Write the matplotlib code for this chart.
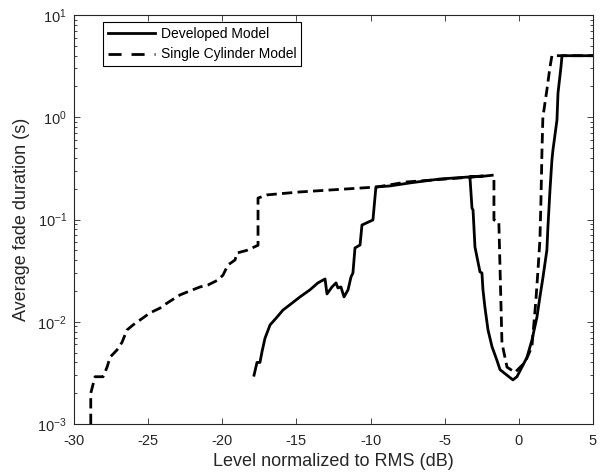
import matplotlib
matplotlib.use("Agg")
import matplotlib.pyplot as plt
from matplotlib.lines import Line2D
from matplotlib.ticker import LogLocator, FixedLocator, NullFormatter

plt.rcParams['font.family'] = ['Liberation Sans', 'DejaVu Sans']
plt.rcParams['mathtext.fontset'] = 'custom'
plt.rcParams['mathtext.rm'] = 'Liberation Sans'
plt.rcParams['mathtext.it'] = 'Liberation Sans:italic'
plt.rcParams['axes.unicode_minus'] = False

# Developed Model (solid)
dev_x = [-17.86, -17.66, -17.46, -17.32, -17.12, -16.78, -16.31, -15.91, -15.30, -14.76,
         -14.09, -13.55, -13.07, -12.94, -12.60, -12.33, -12.20, -12.00, -11.79, -11.52,
         -11.32, -11.19, -11.05, -10.71, -10.58, -9.84, -9.64, -8.69, -7.34, -5.32,
         -3.30, -2.42, -3.30, -3.16, -3.09, -2.96, -2.62, -2.49, -2.42, -2.29,
         -2.08, -1.81, -1.48, -1.27, -0.80, -0.40, -0.13, 0.21, 0.55, 0.88,
         1.22, 1.42, 1.63, 1.89, 1.96, 2.10, 2.23, 2.30, 2.57, 2.64,
         2.84, 2.91, 5.00]
dev_y = [0.0030, 0.0040, 0.0040, 0.0051, 0.0069, 0.0093, 0.0111, 0.0130, 0.0152, 0.0175,
         0.0205, 0.0240, 0.0262, 0.0187, 0.0219, 0.0240, 0.0214, 0.0219, 0.0175, 0.0205,
         0.0274, 0.0300, 0.0527, 0.0563, 0.0883, 0.099, 0.208, 0.213, 0.228, 0.249,
         0.261, 0.266, 0.261, 0.129, 0.124, 0.0538, 0.0307, 0.0300, 0.0205, 0.0139,
         0.0083, 0.0057, 0.0042, 0.0034, 0.0030, 0.0027, 0.0029, 0.0036, 0.0045, 0.0066,
         0.0111, 0.0175, 0.0274, 0.0503, 0.0845, 0.195, 0.382, 0.479, 0.94, 1.73,
         3.1, 4.0, 4.0]

# Single Cylinder Model (dashed)
sc_x = [-28.87, -28.87, -28.58, -28.04, -27.77, -27.57, -27.10, -26.76, -26.43, -26.02,
        -25.35, -24.88, -24.20, -23.73, -22.85, -22.38, -21.50, -20.96, -20.29, -19.95,
        -19.62, -19.14, -19.01, -18.33, -17.59, -17.59, -16.99, -14.76, -9.57, -7.55,
        -2.29, -1.68, -1.68, -1.35, -1.14, -0.80, -0.26, 0.41, 0.88, 1.15,
        1.29, 1.42, 1.49, 1.56, 1.62, 1.89, 2.10, 2.23, 5.00]
sc_y = [0.0010, 0.0020, 0.0029, 0.0029, 0.0036, 0.0045, 0.0053, 0.0063, 0.0083, 0.0093,
        0.0109, 0.0122, 0.0136, 0.0152, 0.0183, 0.0195, 0.0219, 0.0229, 0.0256, 0.0286,
        0.0359, 0.0402, 0.047, 0.050, 0.056, 0.162, 0.174, 0.186, 0.208, 0.233,
        0.266, 0.272, 0.099, 0.095, 0.0062, 0.0036, 0.0032, 0.0040, 0.0057, 0.0163,
        0.032, 0.063, 0.155, 0.479, 1.0, 1.85, 3.1, 4.0, 4.0]

x_ticks = [-30, -25, -20, -15, -10, -5, 0, 5]
series_labels = ['Developed Model', 'Single Cylinder Model']

fig = plt.figure(figsize=(6.01, 4.75), dpi=100)
ax = fig.add_axes([74/601, 51/475, 519/601, 409/475])

ax.plot(dev_x, dev_y, color='black', lw=2.0, ls='-')
ax.plot(sc_x, sc_y, color='black', lw=2.0, ls=(0, (3.7, 1.9)))

ax.set_yscale('log')
ax.set_xlim(-30, 5)
ax.set_ylim(1e-3, 1e1)
ax.xaxis.set_major_locator(FixedLocator(x_ticks))
ax.yaxis.set_major_locator(LogLocator(base=10, numticks=10))
ax.yaxis.set_minor_locator(LogLocator(base=10, subs=range(2, 10), numticks=20))
ax.yaxis.set_minor_formatter(NullFormatter())

axc = '#262626'
for s in ax.spines.values():
    s.set_color(axc)
    s.set_linewidth(0.8)
ax.tick_params(which='both', direction='in', top=True, right=True, colors=axc,
               labelcolor='#262626', labelsize=10.5)
ax.tick_params(which='major', length=4, width=0.6)
ax.tick_params(which='minor', length=2.5, width=0.6)
ax.tick_params(axis='x', which='major', pad=7)
ax.tick_params(axis='y', which='major', pad=5)

ax.set_xlabel('Level normalized to RMS (dB)', fontsize=13, color='#262626', labelpad=4)
ax.set_ylabel('Average fade duration (s)', fontsize=13, color='#262626', labelpad=5)

handles = [Line2D([], [], color='black', lw=2.0, ls='-'),
           Line2D([], [], color='black', lw=2.0, ls=(0, (4.7, 3.6)))]
leg = ax.legend(handles, series_labels, loc='upper left', bbox_to_anchor=(0.056, 0.982),
                fontsize=10, frameon=True, fancybox=False, framealpha=1,
                edgecolor='black', handlelength=3.4, handletextpad=0.4,
                borderpad=0.35, labelspacing=0.45, borderaxespad=0)
leg.get_frame().set_linewidth(0.8)

fig.savefig('out.png', dpi=100)
